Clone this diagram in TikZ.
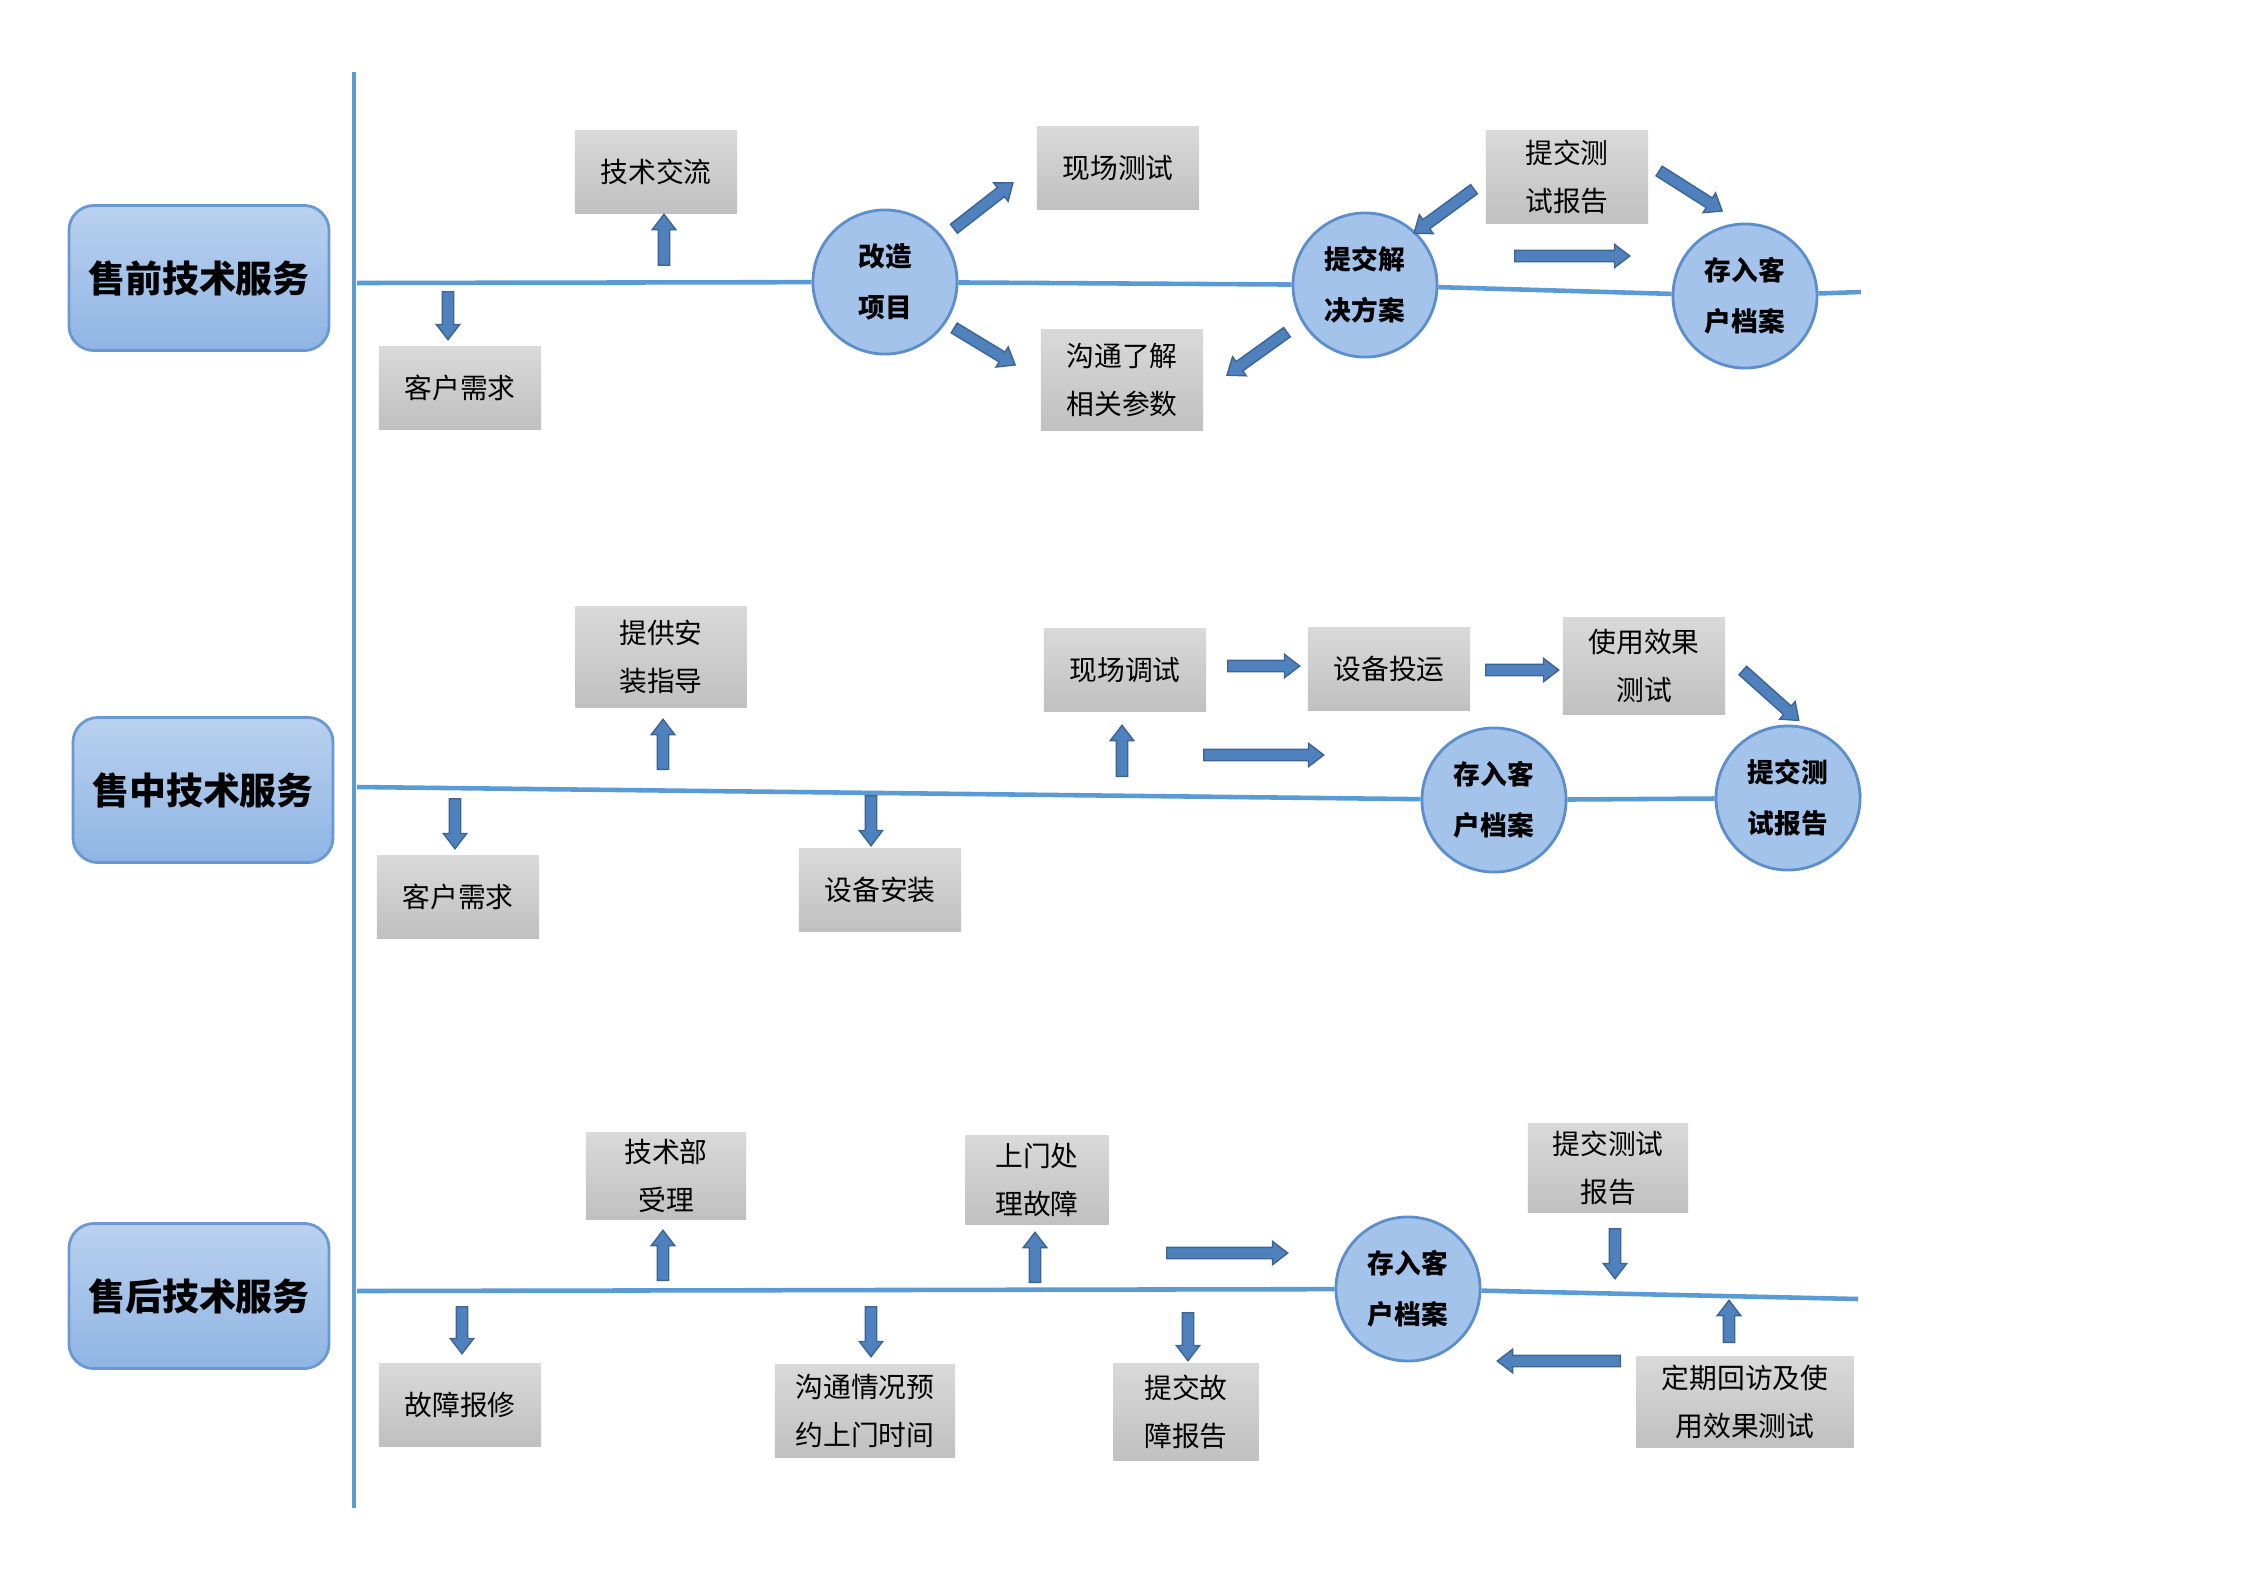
\documentclass[tikz,border=0pt]{standalone}
\usepackage{fontspec}
\setmainfont{Noto Sans CJK SC}
\usetikzlibrary{shapes.arrows,calc,positioning}

\definecolor{laneblue}{RGB}{91,155,213}
\definecolor{arrowfill}{RGB}{79,129,189}
\definecolor{arrowedge}{RGB}{60,100,150}
\definecolor{titletop}{RGB}{186,209,238}
\definecolor{titlebot}{RGB}{143,181,228}
\definecolor{titleedge}{RGB}{105,152,212}
\definecolor{circfill}{RGB}{163,195,234}
\definecolor{circedge}{RGB}{92,142,204}
\definecolor{boxtop}{RGB}{217,217,217}
\definecolor{boxbot}{RGB}{192,192,192}

% block arrow between two named coordinates
\newcommand{\barrow}[3]{%
  \coordinate (#1s) at (#2);
  \coordinate (#1e) at (#3);
  \path let \p1=($(#1e)-(#1s)$), \n1={atan2(\y1,\x1)}, \n2={veclen(\x1,\y1)} in
    node[barrow, rotate=\n1, minimum height=\n2] (#1) at ($(#1s)!0.5!(#1e)$) {};
}

\begin{document}
\begin{tikzpicture}[x=0.01cm,y=-0.01cm]
\tikzstyle{title}=[draw=titleedge, rounded corners=0.25cm, top color=titletop, bottom color=titlebot, line width=0.8pt, minimum width=2.6cm, minimum height=1.45cm, font=\fontsize{10.5}{12}\selectfont\bfseries]
\tikzstyle{item}=[rectangle, top color=boxtop, bottom color=boxbot, minimum width=1.62cm, minimum height=0.82cm, align=center, inner sep=1pt, font=\fontsize{7.9}{13.6}\selectfont]
\tikzstyle{stage}=[circle, draw=circedge, fill=circfill, line width=0.8pt, minimum size=1.44cm, inner sep=0pt, align=center, font=\fontsize{7.6}{14.6}\selectfont\bfseries]
\tikzstyle{barrow}=[single arrow, draw=arrowedge, fill=arrowfill, line width=0.4pt, inner xsep=0pt, inner ysep=0.05cm, text height=0pt, text depth=0pt, single arrow head extend=0.06cm, single arrow tip angle=75, single arrow head indent=0pt]
\tikzstyle{lane}=[draw=laneblue, line width=1.3pt]

\useasboundingbox[fill=white] (0,0) rectangle (2245,1587);

% axis
\coordinate (v1) at (354,72);
\coordinate (v2) at (354,1508);
\draw[lane] (v1) -- (v2);

% pre-sales
\node[title] (t1) at (199,278) {售前技术服务};
\node[item] (khxq1) at (460,388) {客户需求};
\node[item] (jsjl) at (656,172) {技术交流};
\node[stage] (gzxm) at (885,282) {改造\\项目};
\node[item] (xccs) at (1118,168) {现场测试};
\node[item, minimum height=1cm] (gtlj) at (1122,380) {沟通了解\\相关参数};
\node[stage] (tjfa) at (1365,285) {提交解\\决方案};
\node[item, minimum height=0.93cm] (tjbg1) at (1567,177) {提交测\\试报告};
\node[stage] (crda1) at (1745,296) {存入客\\户档案};
\coordinate (s1) at (357,283);
\coordinate (e1) at (1861,292);
\draw[lane] (s1) -- (gzxm) -- (tjfa) -- (crda1) -- (e1);
\barrow{a1}{448,288}{448,336}
\barrow{a2}{664,269}{664,218}
\barrow{a3}{951,231}{1010,185}
\barrow{a4}{951,326}{1012,363}
\barrow{a5}{1290,330}{1230,373}
\barrow{a6}{1477,187}{1417,231}
\barrow{a7}{1656,169}{1719,209}
\barrow{a8}{1511,256}{1626,256}

% in-sales
\node[title] (t2) at (203,790) {售中技术服务};
\node[item] (khxq2) at (458,897) {客户需求};
\node[item, minimum width=1.71cm, minimum height=1cm] (azzd) at (661,657) {提供安\\装指导};
\node[item] (sbaz) at (880,890) {设备安装};
\node[item] (xcts) at (1125,670) {现场调试};
\node[item] (sbty) at (1389,669) {设备投运};
\node[item, minimum height=0.97cm] (syxg) at (1644,666) {使用效果\\测试};
\node[stage] (crda2) at (1494,800) {存入客\\户档案};
\node[stage] (tjbg2) at (1788,798) {提交测\\试报告};
\coordinate (s2) at (357,787);
\coordinate (e2) at (1861,795);
\draw[lane] (s2) -- (crda2) -- (tjbg2) -- (e2);
\barrow{b1}{455,795}{455,845}
\barrow{b2}{663,773}{663,723}
\barrow{b3}{871,792}{871,842}
\barrow{b4}{1122,780}{1122,729}
\barrow{b5}{1224,666}{1296,666}
\barrow{b6}{1482,670}{1555,670}
\barrow{b7}{1740,668}{1796,718}
\barrow{b8}{1200,755}{1320,755}

% after-sales
\node[title] (t3) at (199,1296) {售后技术服务};
\node[item] (gzbx) at (460,1405) {故障报修};
\node[item, minimum width=1.6cm, minimum height=0.87cm] (jsbsl) at (666,1176) {技术部\\受理};
\node[item, minimum width=1.8cm, minimum height=0.93cm] (gtyy) at (865,1411) {沟通情况预\\约上门时间};
\node[item, minimum width=1.43cm, minimum height=0.89cm] (smcl) at (1037,1180) {上门处\\理故障};
\node[item, minimum width=1.45cm, minimum height=0.97cm] (tjgz) at (1186,1412) {提交故\\障报告};
\node[stage] (crda3) at (1408,1289) {存入客\\户档案};
\node[item, minimum width=1.6cm, minimum height=0.89cm] (tjbg3) at (1608,1168) {提交测试\\报告};
\node[item, minimum width=2.17cm, minimum height=0.9cm] (dqhf) at (1745,1402) {定期回访及使\\用效果测试};
\coordinate (s3) at (357,1291);
\coordinate (e3) at (1858,1299);
\draw[lane] (s3) -- (crda3) -- (e3);
\barrow{c1}{462,1303}{462,1350}
\barrow{c2}{663,1284}{663,1234}
\barrow{c3}{871,1303}{871,1353}
\barrow{c4}{1035,1286}{1035,1236}
\barrow{c5}{1163,1253}{1284,1253}
\barrow{c6}{1188,1309}{1188,1357}
\barrow{c7}{1615,1225}{1615,1275}
\barrow{c8}{1729,1346}{1729,1304}
\barrow{c9}{1624,1361}{1501,1361}
\end{tikzpicture}
\end{document}
